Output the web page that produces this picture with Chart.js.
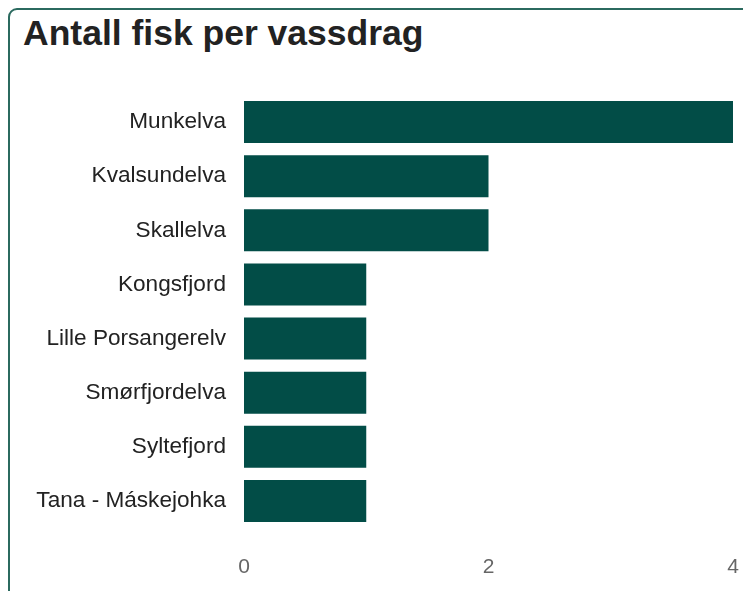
<!DOCTYPE html>
<html>
<head>
<meta charset="utf-8">
<script src="https://cdn.jsdelivr.net/npm/chart.js@4"></script>
<style>
  html, body { margin: 0; padding: 0; background: #fff; }
  body { width: 743px; height: 591px; overflow: hidden; position: relative; font-family: "Liberation Sans", Arial, sans-serif; }
  .card { position: absolute; left: 8px; top: 8px; width: 800px; height: 700px; border: 2px solid #2b6a5f; border-radius: 9px; box-sizing: border-box; }
  h1 { position: absolute; left: 23px; top: 11px; margin: 0; font-size: 35.5px; font-weight: bold; color: #222; line-height: 44px; }
  #wrap { position: absolute; left: 0; top: 0; width: 743px; height: 591px; }
</style>
</head>
<body>
<div class="card"></div>
<h1>Antall fisk per vassdrag</h1>
<div id="wrap"><canvas id="c"></canvas></div>
<script>
const rivers = ['Munkelva', 'Kvalsundelva', 'Skallelva', 'Kongsfjord', 'Lille Porsangerelv', 'Smørfjordelva', 'Syltefjord', 'Tana - Máskejohka'];
const fishCount = [4, 2, 2, 1, 1, 1, 1, 1];
const xTicks = [0, 2, 4];

const barColor = '#024d47';

const myChart = new Chart(document.getElementById('c'), {
  type: 'bar',
  data: {
    labels: rivers,
    datasets: [{
      data: fishCount,
      backgroundColor: barColor,
      borderWidth: 0,
      barPercentage: 0.86,
      categoryPercentage: 0.9
    }]
  },
  options: {
    indexAxis: 'y',
    responsive: true,
    maintainAspectRatio: false,
    animation: false,
    layout: { padding: { left: 0, top: 95, right: 10, bottom: 0 } },
    plugins: { legend: { display: false }, tooltip: { enabled: false } },
    scales: {
      x: {
        min: 0,
        max: 4,
        afterBuildTicks: s => { s.ticks = xTicks.map(v => ({ value: v })); },
        afterFit: s => { s.height = 63; s.paddingLeft = 0; s.paddingRight = 0; },
        grid: { display: false, drawTicks: false },
        border: { display: false },
        ticks: { color: '#666', padding: 27, maxRotation: 0, font: { family: 'Liberation Sans', size: 21 } }
      },
      y: {
        afterFit: s => { s.width = 244; s.paddingTop = 0; s.paddingBottom = 0; },
        grid: { display: false, drawTicks: false },
        border: { display: false },
        ticks: { color: '#222', padding: 18, font: { family: 'Liberation Sans', size: 22.6 } }
      }
    }
  }
});
</script>
</body>
</html>
